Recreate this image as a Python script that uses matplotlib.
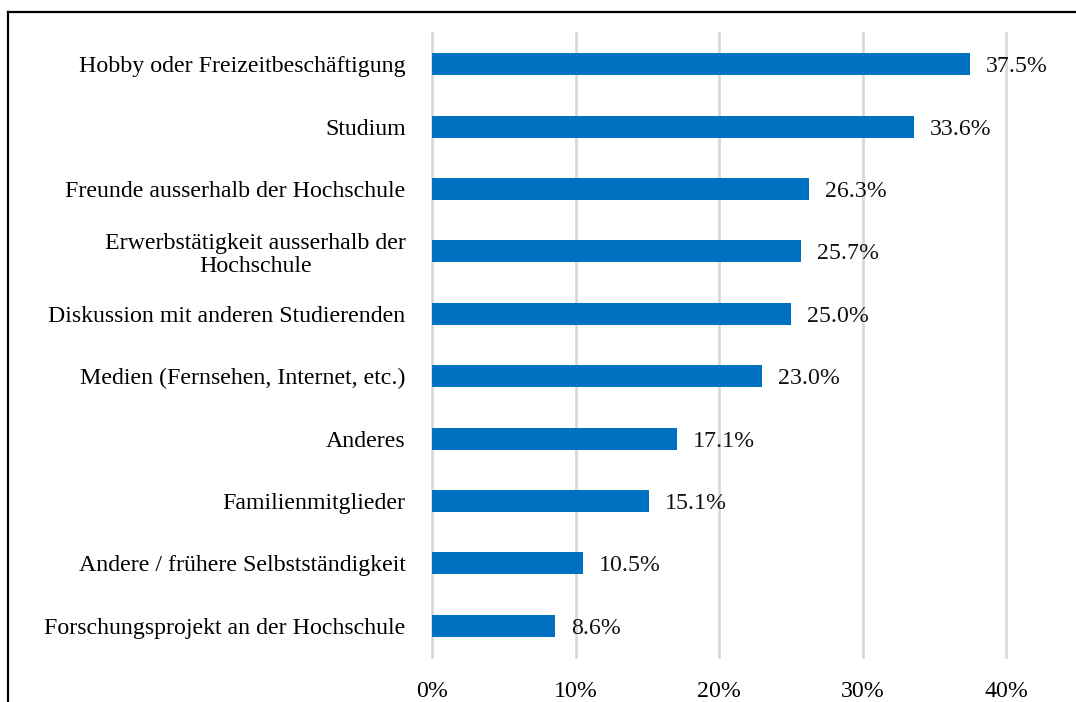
import matplotlib
matplotlib.use("Agg")
import matplotlib.pyplot as plt
from matplotlib.lines import Line2D

categories = [
    "Hobby oder Freizeitbeschäftigung",
    "Studium",
    "Freunde ausserhalb der Hochschule",
    "Erwerbstätigkeit ausserhalb der\nHochschule",
    "Diskussion mit anderen Studierenden",
    "Medien (Fernsehen, Internet, etc.)",
    "Anderes",
    "Familienmitglieder",
    "Andere / frühere Selbstständigkeit",
    "Forschungsprojekt an der Hochschule",
]
values = [37.5, 33.6, 26.3, 25.7, 25.0, 23.0, 17.1, 15.1, 10.5, 8.6]
x_ticks = [0, 10, 20, 30, 40]

plt.rcParams["font.family"] = ["Liberation Serif", "DejaVu Serif"]
FS = 17.2

fig = plt.figure(figsize=(10.76, 7.02), dpi=100)
ax = fig.add_axes([432 / 1076, 1 - 657 / 702, (1006 - 432) / 1076, (657 - 33) / 702])

ypos = list(range(len(categories)))
ax.barh(ypos, values, height=0.35, color="#0070C0", zorder=3)
for y, v in zip(ypos, values):
    ax.text(v + 1.1, y + 0.04, f"{v:.1f}%", va="center", ha="left", fontsize=FS, color="#111111")

ax.set_ylim(len(categories) - 0.5, -0.5)
ax.set_xlim(0, 40)
ax.set_yticks(ypos)
ax.set_yticklabels(categories, fontsize=FS, multialignment="center", linespacing=1.15)
ax.set_xticks(x_ticks)
ax.set_xticklabels([f"{t}%" for t in x_ticks], fontsize=FS)
ax.tick_params(axis="y", length=0, pad=19)
ax.tick_params(axis="x", length=0, pad=17)
ax.xaxis.grid(True, color="#d9d9d9", linewidth=2, zorder=0)
for gl in ax.get_xgridlines():
    gl.set_clip_on(False)
ax.set_axisbelow(True)
for s in ax.spines.values():
    s.set_visible(False)

# frame around the figure (cropped at right / bottom)
fx = 7.5 / 1076
fy = 1 - 11.5 / 702
fig.add_artist(Line2D([fx, fx], [0, fy], transform=fig.transFigure, color="black", linewidth=1.6))
fig.add_artist(Line2D([fx, 1], [fy, fy], transform=fig.transFigure, color="black", linewidth=1.6))

fig.savefig("out.png", dpi=100)
